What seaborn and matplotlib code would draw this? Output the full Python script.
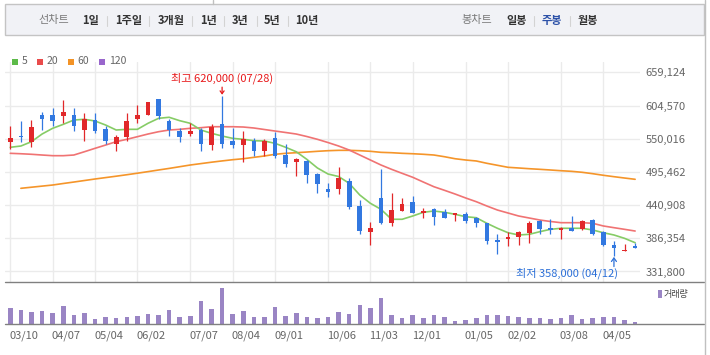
import numpy as np
import pandas as pd
import matplotlib
matplotlib.use("Agg")
import matplotlib.pyplot as plt
import matplotlib.transforms as mtransforms
import seaborn as sns
from matplotlib.patches import Rectangle
from matplotlib.lines import Line2D

# ---------------- data (weekly candles) ----------------
opens = [545000, 554000, 545000, 589000, 589000, 587000, 589000, 564000, 581000, 566000,
         542000, 552000, 582000, 589000, 615000, 579000, 563000, 557000, 564000, 540000,
         574000, 546000, 540000, 547000, 529000, 551000, 523000, 512000, 514000, 492000,
         467000, 467000, 481000, 439000, 397000, 452000, 412000, 432000, 446000, 428000,
         435000, 430000, 424000, 426000, 420000, 411000, 384000, 385000, 389000, 395000,
         414000, 403000, 400000, 403000, 402000, 416000, 396000, 375000, 366000, 374000]
highs = [571000, 579000, 581000, 594000, 601000, 614000, 601000, 593000, 593000, 571000,
         556000, 593000, 605000, 611000, 615000, 582000, 567000, 575000, 567000, 574000,
         620000, 567000, 562000, 551000, 550000, 561000, 541000, 519000, 515000, 493000,
         477000, 503000, 485000, 450000, 413000, 501000, 461000, 453000, 456000, 436000,
         436000, 434000, 428000, 429000, 422000, 411000, 393000, 397000, 398000, 414000,
         416000, 418000, 405000, 423000, 416000, 418000, 398000, 382000, 377000, 379000]
lows = [533000, 545000, 537000, 564000, 571000, 575000, 563000, 547000, 560000, 542000,
        529000, 547000, 575000, 589000, 582000, 555000, 545000, 555000, 529000, 531000,
        534000, 534000, 512000, 522000, 522000, 519000, 503000, 489000, 478000, 461000,
        455000, 459000, 435000, 393000, 375000, 410000, 407000, 432000, 428000, 420000,
        409000, 419000, 415000, 411000, 405000, 377000, 361000, 373000, 375000, 379000,
        393000, 393000, 386000, 399000, 400000, 392000, 373000, 358000, 366000, 370000]
closes = [551000, 552000, 570000, 582000, 579000, 594000, 571000, 582000, 563000, 546000,
          552000, 579000, 589000, 610000, 587000, 564000, 552000, 563000, 542000, 570000,
          542000, 540000, 549000, 529000, 547000, 522000, 508000, 516000, 490000, 476000,
          463000, 486000, 437000, 398000, 403000, 411000, 433000, 443000, 428000, 431000,
          422000, 419000, 428000, 415000, 412000, 382000, 381000, 389000, 396000, 412000,
          401000, 400000, 403000, 399000, 415000, 393000, 375000, 371000, 367000, 370000]
ma5 = [535900, 538000, 545100, 557700, 567100, 573600, 580700, 581900, 579100, 572500,
       564300, 565400, 565400, 575300, 583500, 585200, 579600, 575300, 564300, 558900,
       554400, 550600, 549000, 546700, 546200, 542400, 535900, 528600, 516100, 501900,
       492000, 487900, 476700, 457500, 443900, 434000, 417600, 417600, 423000, 429100,
       431200, 429100, 425800, 421800, 420200, 411000, 402800, 395500, 391800, 392900,
       397200, 401100, 402800, 402800, 402800, 400000, 395500, 391800, 386300, 379100]
ma20 = [526000, 525300, 524400, 523200, 522100, 522100, 523200, 528600, 534200, 539600,
        545100, 549000, 553300, 557700, 561500, 564300, 565400, 567100, 568100, 569700,
        569700, 569700, 569200, 567600, 565100, 562600, 560200, 557700, 553600, 549000,
        543700, 538000, 531400, 523200, 515000, 506800, 499700, 493100, 486600, 478800,
        471100, 465200, 459100, 452600, 446500, 439400, 432800, 427900, 423000, 419700,
        416400, 414000, 412000, 412000, 412000, 411000, 406600, 403800, 401100, 398300]
ma60 = [np.nan, 468500, 470300, 472100, 473900, 476400, 478800, 481300, 483800, 486100,
        488400, 490800, 493300, 495900, 498600, 501200, 504000, 506800, 509100, 511400,
        513500, 515500, 517100, 519400, 521600, 524400, 526000, 527000, 528100, 529300,
        530300, 530900, 530900, 530300, 529300, 527600, 527000, 526000, 525300, 524400,
        523200, 520400, 517100, 515000, 513400, 509600, 506300, 503000, 501900, 500700,
        499700, 498600, 497400, 496400, 494800, 492500, 489900, 487600, 485400, 483300]
volume = [480, 420, 360, 390, 330, 540, 270, 330, 150, 210, 180, 210, 240, 300, 270, 420,
          210, 240, 690, 450, 1090, 300, 390, 210, 210, 510, 240, 330, 210, 180, 210, 360,
          300, 570, 480, 780, 270, 180, 270, 180, 270, 210, 90, 120, 180, 270, 270, 240,
          210, 180, 180, 150, 180, 270, 150, 180, 210, 210, 120, 60]
tick_pos = [0, 4, 8, 12, 17, 21, 25, 30, 34, 38, 43, 47, 52, 56]
tick_labels = ["03/10", "04/07", "05/04", "06/02", "07/07", "08/04", "09/01", "10/06",
               "11/03", "12/01", "01/05", "02/02", "03/08", "04/05"]
price_ticks = [331800, 386354, 440908, 495462, 550016, 604570, 659124]
legend_names = ["5", "20", "60", "120"]
buttons_left = ["1일", "1주일", "3개월", "1년", "3년", "5년", "10년"]
buttons_right = ["일봉", "주봉", "월봉"]

# ---------------- styling ----------------
sns.set_style("white")
plt.rcParams["font.family"] = ["Noto Sans CJK KR", "DejaVu Sans"]
RED = "#e1282a"
BLUE = "#3278e0"
C_MA5 = "#86cc66"
C_MA20 = "#f07373"
C_MA60 = "#f5952a"
C_VOL = "#9a85c4"
GRID = "#ebebeb"

W, H = 710, 355
fig = plt.figure(figsize=(W / 100, H / 100), dpi=100)
fx = lambda px: px / W
fy = lambda py: 1 - py / H

df = pd.DataFrame({"i": np.arange(len(opens)), "open": opens, "high": highs, "low": lows,
                   "close": closes, "ma5": ma5, "ma20": ma20, "ma60": ma60, "vol": volume})

# price axes
ax = fig.add_axes([fx(5), fy(281.7), fx(640) - fx(5), fy(62) - fy(281.7)])
ax.set_xlim(-0.5, 59.46)
ax.set_ylim(315039, 676049)
for s in ax.spines.values():
    s.set_visible(False)
ax.set_yticks(price_ticks)
ax.set_yticklabels([f"{v:,}" for v in price_ticks])
ax.set_xticks(tick_pos)
ax.set_xticklabels([])
ax.yaxis.tick_right()
ax.tick_params(axis="both", length=0)
ax.tick_params(axis="y", labelsize=8, labelcolor="#666666", pad=4)
ax.grid(True, color=GRID, lw=1)
ax.set_axisbelow(True)

sns.lineplot(data=df, x="i", y="ma60", ax=ax, color=C_MA60, lw=1.2, legend=False, zorder=2)
sns.lineplot(data=df, x="i", y="ma20", ax=ax, color=C_MA20, lw=1.2, legend=False, zorder=2)
sns.lineplot(data=df, x="i", y="ma5", ax=ax, color=C_MA5, lw=1.2, legend=False, zorder=2)
ax.set_xlabel("")
ax.set_ylabel("")

up = df["close"] >= df["open"]
cols = np.where(up, RED, BLUE)
ax.vlines(df["i"], df["low"], df["high"], colors=cols, lw=0.9, zorder=3)
bottoms = np.minimum(df["open"], df["close"])
heights = np.maximum(np.abs(df["close"] - df["open"]), 1600)
ax.bar(df["i"], heights, bottom=bottoms, width=0.44, color=cols, lw=0, zorder=4)

# high / low annotations
imax = int(np.argmax(highs))
imin = int(np.argmin(lows))
ax.annotate(f"최고 {highs[imax]:,} ({'07/28'})", xy=(imax, highs[imax]), xytext=(0, 18),
            textcoords="offset pixels", ha="center", va="center", fontsize=8, color="#e8191b",
            arrowprops=dict(arrowstyle="->,head_length=0.25,head_width=0.18", color="#e8191b",
                            lw=0.9, shrinkA=0, shrinkB=1), zorder=6)
ax.annotate("", xy=(imin, lows[imin]), xytext=(0, -11), textcoords="offset pixels",
            arrowprops=dict(arrowstyle="->,head_length=0.25,head_width=0.18", color="#2b6fd8",
                            lw=0.9, shrinkA=0, shrinkB=1), zorder=6)
ax.annotate(f"최저 {lows[imin]:,} ({'04/12'})", xy=(imin, lows[imin]), xytext=(4, -18),
            textcoords="offset pixels", ha="right", va="center", fontsize=8, color="#2b6fd8",
            zorder=6)

# volume axes
axv = fig.add_axes([fx(5), fy(324), fx(640) - fx(5), fy(282) - fy(324)])
axv.set_xlim(-0.5, 59.46)
axv.set_ylim(0, 1261)
axv.bar(df["i"], df["vol"], width=0.43, color=C_VOL, lw=0)
for s in axv.spines.values():
    s.set_visible(False)
axv.set_yticks([])
axv.set_xticks(tick_pos)
axv.set_xticklabels(tick_labels)
axv.tick_params(axis="x", length=4, width=1, color="#888888", pad=1, labelsize=8,
                labelcolor="#666666")
shift = mtransforms.ScaledTranslation(-1 / 100, 0, fig.dpi_scale_trans)
for lab in axv.get_xticklabels():
    lab.set_horizontalalignment("left")
    lab.set_transform(lab.get_transform() + shift)

# figure decorations: frame lines
fig.add_artist(Line2D([fx(5), fx(704)], [fy(281.7), fy(281.7)], color="#808080", lw=1.0))
fig.add_artist(Line2D([fx(5), fx(704)], [fy(324), fy(324)], color="#808080", lw=1.0))
fig.add_artist(Line2D([fx(704.5), fx(704.5)], [0, 1], color="#c0c0c0", lw=1.0))
fig.add_artist(Line2D([fx(213), fx(213)], [fy(0), fy(4)], color="#c0c0c0", lw=1.0))

# top button bar
fig.add_artist(Rectangle((fx(5), fy(35)), fx(704) - fx(5), fy(4) - fy(35),
                         transform=fig.transFigure, facecolor="#f1f2f6", edgecolor="#c4c4c4",
                         lw=1.0))
fig.text(fx(54.3), fy(20.5), "선차트", ha="center", va="center", fontsize=8, color="#7a7a7a")
left_x = [90.8, 128.3, 170.8, 208.3, 240.5, 272.2, 307.2]
for lbl, cx in zip(buttons_left, left_x):
    fig.text(fx(cx), fy(20.5), lbl, ha="center", va="center", fontsize=8, fontweight="bold",
             color="#333333")
for sx in [106.7, 149.3, 192.3, 224.3, 256.7, 288.3, 534.3, 570.3]:
    fig.add_artist(Line2D([fx(sx), fx(sx)], [fy(15.5), fy(25.5)], color="#d3d3d3", lw=0.8))
fig.text(fx(476.5), fy(20.5), "봉차트", ha="center", va="center", fontsize=8, color="#7a7a7a")
right_x = [516.7, 552.2, 588]
right_c = ["#333333", "#2d52a8", "#333333"]
for lbl, cx, cc in zip(buttons_right, right_x, right_c):
    fig.text(fx(cx), fy(20.5), lbl, ha="center", va="center", fontsize=8, fontweight="bold",
             color=cc)

# MA legend
leg_cols = ["#5cba48", "#e94b4b", "#f39326", "#9966cc"]
sq_x = [12, 36.7, 68.3, 99]
tx_x = [21.5, 46.5, 77.5, 109]
for name, c, sx, tx in zip(legend_names, leg_cols, sq_x, tx_x):
    fig.add_artist(Rectangle((fx(sx), fy(64.5)), fx(6), 6 / H, transform=fig.transFigure,
                             facecolor=c, edgecolor="none"))
    fig.text(fx(tx), fy(61.5), name, ha="left", va="center", fontsize=7.5, color="#666666")

# volume legend
fig.add_artist(Rectangle((fx(658), fy(297.5)), fx(3.5), 7.5 / H, transform=fig.transFigure,
                         facecolor=C_VOL, edgecolor="none"))
fig.text(fx(663.5), fy(294), "거래량", ha="left", va="center", fontsize=6.5, color="#444444")

fig.savefig("out.png", dpi=100)
